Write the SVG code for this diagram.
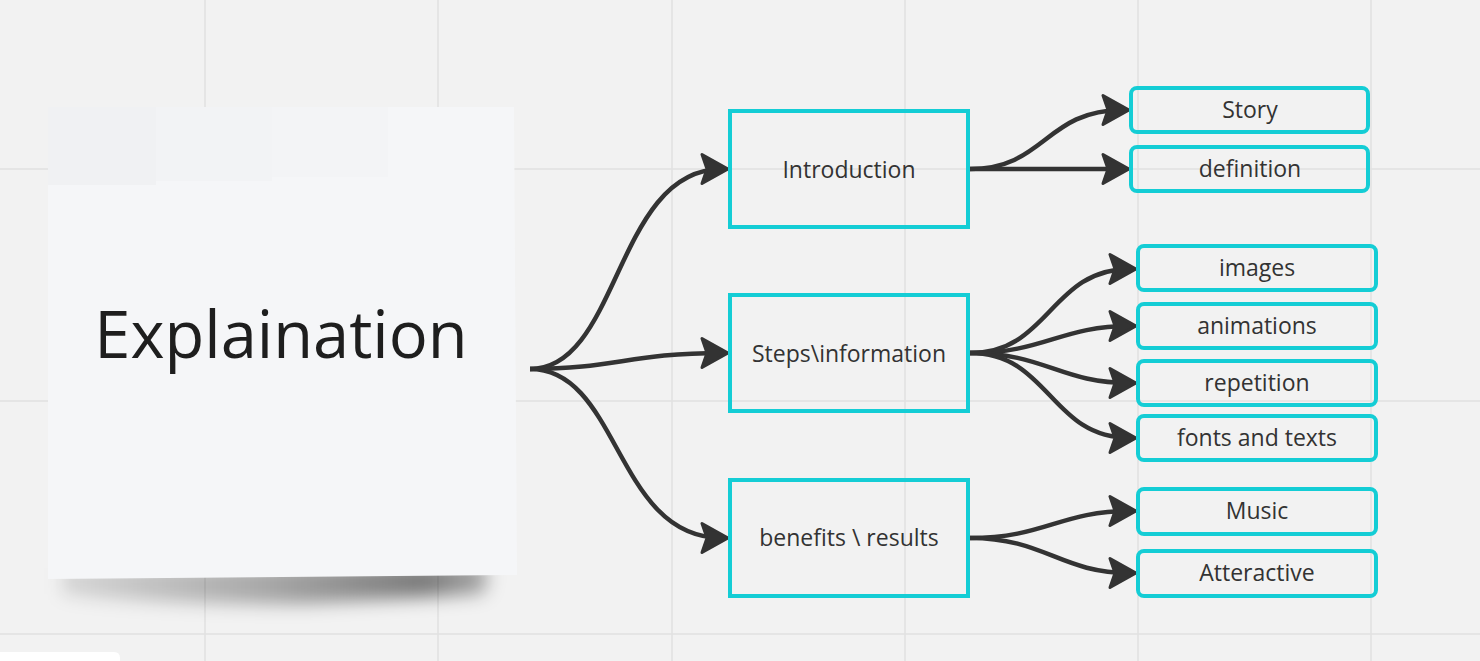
<svg xmlns="http://www.w3.org/2000/svg" width="1480" height="661" viewBox="0 0 1480 661">
<style>
.grid{stroke:#E1E1E1;stroke-width:1.5}
.main{fill:none;stroke:#14CDD5;stroke-width:4}
.child{fill:none;stroke:#14CDD5;stroke-width:4}
.lbl{font-family:"Open Sans","Noto Sans",sans-serif;font-size:23px;fill:#333333;text-anchor:middle}
.conn{fill:none;stroke:#333333;stroke-width:4.5;marker-end:url(#arr)}
</style>
<defs>
<marker id="arr" markerUnits="userSpaceOnUse" markerWidth="40" markerHeight="40" refX="-6" refY="0" orient="auto" overflow="visible">
<path d="M0,0 L-26,-14.5 L-21,0 L-26,14.5 Z" fill="#333333" stroke="#333333" stroke-width="3" stroke-linejoin="round"/>
</marker>
<filter id="blur" x="-20%" y="-200%" width="140%" height="500%">
<feGaussianBlur stdDeviation="9"/>
</filter>
<linearGradient id="shg" x1="0" y1="0" x2="1" y2="0">
<stop offset="0" stop-color="#000" stop-opacity="0.12"/>
<stop offset="0.5" stop-color="#000" stop-opacity="0.32"/>
<stop offset="0.85" stop-color="#000" stop-opacity="0.5"/>
<stop offset="1" stop-color="#000" stop-opacity="0.3"/>
</linearGradient>
</defs>
<rect x="0" y="0" width="1480" height="661" fill="#F2F2F2"/>
<g id="grid">
<line class="grid" x1="205" y1="0" x2="205" y2="661"/>
<line class="grid" x1="438" y1="0" x2="438" y2="661"/>
<line class="grid" x1="672" y1="0" x2="672" y2="661"/>
<line class="grid" x1="905" y1="0" x2="905" y2="661"/>
<line class="grid" x1="1138" y1="0" x2="1138" y2="661"/>
<line class="grid" x1="1371" y1="0" x2="1371" y2="661"/>
<line class="grid" x1="0" y1="169" x2="1480" y2="169"/>
<line class="grid" x1="0" y1="401" x2="1480" y2="401"/>
<line class="grid" x1="0" y1="634" x2="1480" y2="634"/>
</g>
<path d="M0,652 H114 Q120,652 120,658 V661 H0 Z" fill="#FFFFFF"/>
<g id="explaination">
<path d="M62,568 L482,564 Q494,580 482,594 L300,604 Q140,604 62,594 Z" fill="url(#shg)" filter="url(#blur)"/>
<path d="M48,107 L514,107 L517,575 L48,579 Z" fill="#F5F6F8"/>
<rect x="48" y="107" width="108" height="78" fill="#F0F1F3"/>
<rect x="156" y="107" width="116" height="74" fill="#F2F3F5"/>
<rect x="272" y="107" width="116" height="70" fill="#F3F4F6"/>
<text x="281" y="358" font-family="'Open Sans','Noto Sans',sans-serif" font-size="65" fill="#1E1E1E" text-anchor="middle">Explaination</text>
</g>
<g id="connectors">
<path class="conn" d="M530,369 C620,369 615,169 722,169"/>
<path class="conn" d="M530,369 C615,369 630,353 722,353"/>
<path class="conn" d="M530,369 C620,369 615,538 722,538"/>
<path class="conn" d="M970,169 C1045,169 1045,110 1123,110"/>
<path class="conn" d="M970,169 L1123,169"/>
<path class="conn" d="M970,353 C1050,353 1050,269 1130,269"/>
<path class="conn" d="M970,353 C1045,353 1060,326 1130,326"/>
<path class="conn" d="M970,353 C1045,353 1060,383 1130,383"/>
<path class="conn" d="M970,353 C1050,353 1050,438 1130,438"/>
<path class="conn" d="M970,538 C1045,538 1060,511 1130,511"/>
<path class="conn" d="M970,538 C1045,538 1060,573 1130,573"/>
</g>
<g id="introduction">
<rect class="main" x="730" y="111" width="238" height="116"/>
<text class="lbl" x="849" y="178">Introduction</text>
</g>
<g id="steps">
<rect class="main" x="730" y="295" width="238" height="116"/>
<text class="lbl" x="849" y="362">Steps\information</text>
</g>
<g id="benefits">
<rect class="main" x="730" y="480" width="238" height="116"/>
<text class="lbl" x="849" y="546">benefits \ results</text>
</g>
<g id="story">
<rect class="child" x="1131" y="88" width="237" height="44" rx="6"/>
<text class="lbl" x="1250" y="118">Story</text>
</g>
<g id="definition">
<rect class="child" x="1131" y="147" width="237" height="44" rx="6"/>
<text class="lbl" x="1250" y="177">definition</text>
</g>
<g id="images">
<rect class="child" x="1138" y="246" width="238" height="44" rx="6"/>
<text class="lbl" x="1257" y="276">images</text>
</g>
<g id="animations">
<rect class="child" x="1138" y="304" width="238" height="44" rx="6"/>
<text class="lbl" x="1257" y="334">animations</text>
</g>
<g id="repetition">
<rect class="child" x="1138" y="361" width="238" height="44" rx="6"/>
<text class="lbl" x="1257" y="391">repetition</text>
</g>
<g id="fonts">
<rect class="child" x="1138" y="416" width="238" height="44" rx="6"/>
<text class="lbl" x="1257" y="446">fonts and texts</text>
</g>
<g id="music">
<rect class="child" x="1138" y="489" width="238" height="45" rx="6"/>
<text class="lbl" x="1257" y="519">Music</text>
</g>
<g id="atteractive">
<rect class="child" x="1138" y="551" width="238" height="45" rx="6"/>
<text class="lbl" x="1257" y="581">Atteractive</text>
</g>
</svg>
